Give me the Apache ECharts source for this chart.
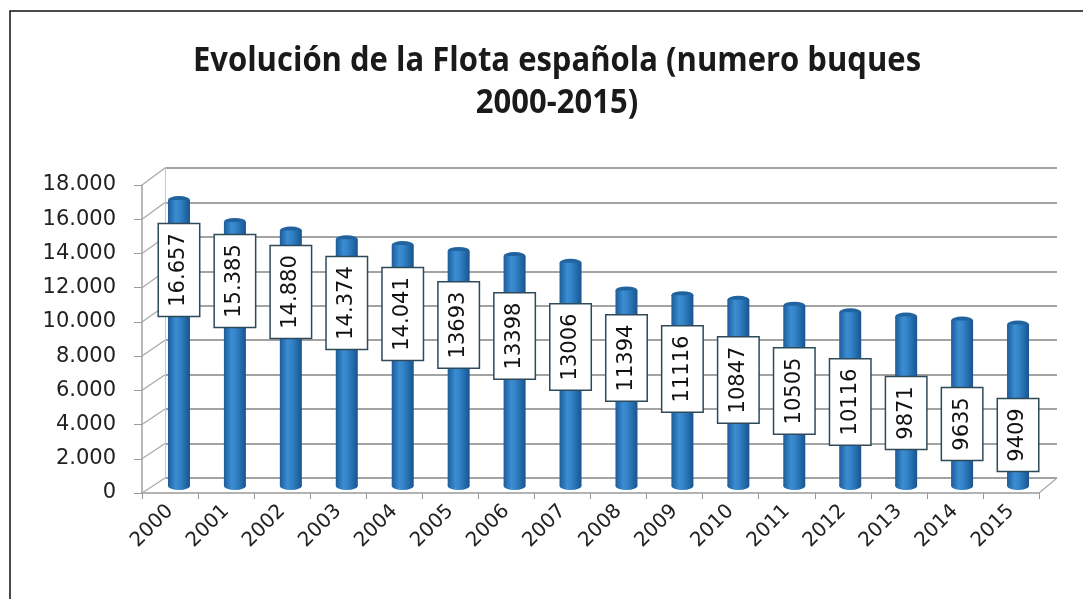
<!DOCTYPE html>
<html><head><meta charset="utf-8">
<script src="https://cdn.jsdelivr.net/npm/echarts@6/dist/echarts.min.js"></script>
<style>html,body{margin:0;padding:0;background:#fff}#c{width:1083px;height:599px}</style>
</head><body><div id="c"></div>
<script>
// ---- data ----
const years = ['2000','2001','2002','2003','2004','2005','2006','2007','2008','2009','2010','2011','2012','2013','2014','2015'];
const buques = [16657,15385,14880,14374,14041,13693,13398,13006,11394,11116,10847,10505,10116,9871,9635,9409];
const labelTexts = ['16.657','15.385','14.880','14.374','14.041','13693','13398','13006','11394','11116','10847','10505','10116','9871','9635','9409'];
const yMin = 0, yMax = 18000, yInterval = 2000;
const titleText = 'Evolución de la Flota española (numero buques\n2000-2015)';

// ---- style ----
const FONT = 'DejaVu Sans';
const W = 1083, H = 599;
const gFront = {left:142, right:44, top:185, bottom:106};
const gMid   = {left:151, right:37, top:177, bottom:113};
const gBack  = {left:165, right:26, top:168, bottom:121};
const LABEL_Y0 = 270, LABEL_STEP = 11;

function fmt(v){ return String(v).replace(/\B(?=(\d{3})+(?!\d))/g,'.'); }

const chart = echarts.init(document.getElementById('c'));

const barGrad = new echarts.graphic.LinearGradient(0,0,1,0,[
  {offset:0,color:'#1c5c9b'},{offset:0.35,color:'#3b8dd2'},{offset:0.55,color:'#3382c7'},{offset:1,color:'#18548f'}]);

function valueAxis(gi, extra){
  return Object.assign({type:'value', gridIndex:gi, min:yMin, max:yMax, interval:yInterval,
    axisLabel:{show:false}, axisTick:{show:false}, axisLine:{show:false}, splitLine:{show:false}}, extra||{});
}
function catAxis(gi, extra){
  return Object.assign({type:'category', gridIndex:gi, data:years,
    axisLabel:{show:false}, axisTick:{show:false}, axisLine:{show:false}, splitLine:{show:false}}, extra||{});
}

const option = {
  backgroundColor:'#ffffff',
  animation:false,
  grid:[gFront, gMid, gBack],
  xAxis:[
    catAxis(0,{axisLine:{show:true,lineStyle:{color:'#9a9a9a',width:1.5}},
      axisTick:{show:true,length:6,lineStyle:{color:'#9a9a9a'}},
      axisLabel:{show:true,rotate:45,fontFamily:FONT,fontSize:20,color:'#222',margin:15}}),
    catAxis(1),
    catAxis(2)
  ],
  yAxis:[
    valueAxis(0,{axisLine:{show:true,lineStyle:{color:'#a0a0a0',width:1.5}},
      axisTick:{show:true,length:8,lineStyle:{color:'#9a9a9a'}},
      axisLabel:{show:true,fontFamily:FONT,fontSize:21,color:'#222',margin:26,formatter:fmt}}),
    valueAxis(1),
    valueAxis(2,{splitLine:{show:true,lineStyle:{color:'#858585',width:1.6}},
      axisLine:{show:true,lineStyle:{color:'#c8c8c8',width:1}}})
  ],
  series:[
    {type:'pictorialBar', xAxisIndex:1, yAxisIndex:1, data:buques, symbol:'circle',
     symbolSize:[22,8], symbolPosition:'start', symbolOffset:[0,'50%'], z:3,
     itemStyle:{color:barGrad}, silent:true},
    {type:'bar', xAxisIndex:1, yAxisIndex:1, barWidth:22, z:4,
     itemStyle:{color:barGrad},
     data:buques.map((v,i)=>({value:v})),
     label:{show:true, rotate:90, fontFamily:FONT, fontSize:21, color:'#111',
       backgroundColor:'#fff', borderColor:'#2c4a5a', borderWidth:1.5,
       padding:[9,9], lineHeight:22, align:'center', verticalAlign:'middle',
       formatter:p=>labelTexts[p.dataIndex]}},
    {type:'pictorialBar', xAxisIndex:1, yAxisIndex:1, data:buques, symbol:'circle',
     symbolSize:[22,8], symbolPosition:'end', symbolOffset:[0,'-50%'], z:3,
     itemStyle:{color:'#21639f'}, silent:true}
  ]
};
chart.setOption(option);

// label placement: centers on a straight line descending across the bars
const barData = buques.map((v,i)=>{
  const top = chart.convertToPixel({xAxisIndex:1,yAxisIndex:1},[i,v])[1];
  const cy = LABEL_Y0 + LABEL_STEP*i;
  return {value:v, label:{position:['50%', cy - top]}};
});

// 3D connectors (front wall -> back wall)
const g = [];
for(let v=yMin; v<=yMax; v+=yInterval){
  const yf = chart.convertToPixel({yAxisIndex:0}, v);
  const yb = chart.convertToPixel({yAxisIndex:2}, v);
  g.push({type:'line', z:1, shape:{x1:gFront.left,y1:yf,x2:gBack.left,y2:yb}, style:{stroke:'#a8a8a8',lineWidth:1.2}});
}
const y0f = chart.convertToPixel({yAxisIndex:0}, 0), y0b = chart.convertToPixel({yAxisIndex:2}, 0);
g.push({type:'line', z:1, shape:{x1:W-gFront.right,y1:y0f,x2:W-gBack.right,y2:y0b}, style:{stroke:'#a8a8a8',lineWidth:1.2}});
// frame
g.push({type:'rect', z:0, shape:{x:10,y:11,width:1100,height:640}, style:{fill:null,stroke:'#111',lineWidth:1.5}});
// title
g.push({type:'text', z:10, x:557, y:82, scaleY:1.12, originX:0, originY:0, style:{text:titleText, fill:'#1a1a1a',
  font:'bold 31px "Open Sans"', align:'center', verticalAlign:'middle', lineHeight:38}});

chart.setOption({series:[{},{data:barData},{}], graphic:g});
</script>
</body></html>
